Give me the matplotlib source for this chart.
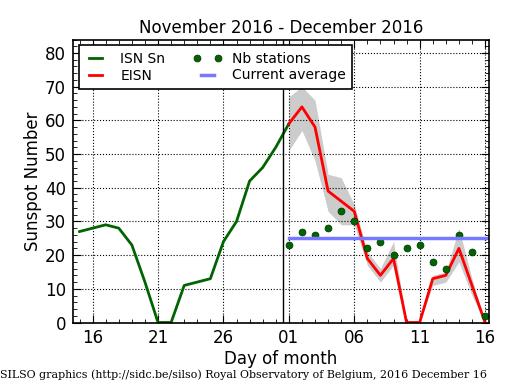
import numpy as np
import matplotlib
matplotlib.use('Agg')
import matplotlib.pyplot as plt
from matplotlib.ticker import MultipleLocator
from matplotlib.legend_handler import HandlerLine2D

# days relative to 2016 December 01
sn_days = np.arange(-16, 1)
sn_vals = [27, 28, 29, 28, 23, 12, 0, 0, 11, 12, 13, 24, 30, 42, 46, 52, 59]

eisn_days = np.arange(0, 16)
eisn_vals = [59, 64, 58, 39, 36, 33, 19, 14, 19, 0, 0, 13, 14, 22, 11, 0]
eisn_hi = [67, 70, 66, 44, 43, 35, 21, 16, 24, 0, 0, 14, 15, 28, 13, 0]
eisn_lo = [51, 57, 48, 33, 29, 29, 17, 12, 17, 0, 0, 11, 12, 18, 8, 0]
nb_stations = [23, 27, 26, 28, 33, 30, 22, 24, 20, 22, 23, 18, 16, 26, 21, 2]
current_avg = 25

tick_pos = [-15, -10, -5, 0, 5, 10, 15]
tick_lab = ['16', '21', '26', '01', '06', '11', '16']

fig = plt.figure(figsize=(5.15, 3.9), dpi=100)
ax = fig.add_axes([73/515, 1-322.5/390, (489-73)/515, (322.5-39.5)/390])

ax.fill_between(eisn_days, eisn_lo, eisn_hi, color='#cccccc', lw=0)
ax.plot(sn_days, sn_vals, color='darkgreen', lw=2, label='ISN Sn')
ax.plot(eisn_days, eisn_vals, color='red', lw=2, label='EISN')
dots, = ax.plot(eisn_days, nb_stations, 'o', color='darkgreen', ms=5, mec='#003300', mew=0.5,
                label='Nb stations')
ax.plot([0, 16], [current_avg, current_avg], color='#7777ff', lw=2.5, label='Current average')
ax.axvline(-0.45, color='black', lw=1)

ax.set_xlim(-16.5, 15.3)
ax.set_ylim(0, 84)
ax.set_xticks(tick_pos)
ax.set_xticklabels(tick_lab)
ax.xaxis.set_minor_locator(MultipleLocator(1))
ax.yaxis.set_major_locator(MultipleLocator(10))
ax.yaxis.set_minor_locator(MultipleLocator(2))
ax.tick_params(which='both', direction='in', top=True, right=True, labelsize=12)
ax.tick_params(which='major', length=6)
ax.tick_params(which='minor', length=3)
ax.tick_params(axis='x', pad=5)
ax.tick_params(axis='y', pad=5)
ax.grid(True, which='major', color='black', ls=':', lw=0.8)
for s in ax.spines.values():
    s.set_linewidth(1.2)

ax.set_xlabel('Day of month', fontsize=12, labelpad=2)
ax.set_ylabel('Sunspot Number', fontsize=12, labelpad=2)
ax.set_title('November 2016 - December 2016', fontsize=12, pad=5)

leg = ax.legend(loc='upper left', ncol=2, numpoints=2, fontsize=10, fancybox=False,
                borderaxespad=0.43, handlelength=1.53, handletextpad=1.0, columnspacing=2.25,
                labelspacing=0.2, borderpad=0.45,
                handler_map={dots: HandlerLine2D(numpoints=2, marker_pad=0)})
leg.get_frame().set_edgecolor('black')
leg.get_frame().set_linewidth(1.2)
leg.get_frame().set_alpha(1)

fig.text(0.0, 1-378/390, 'SILSO graphics (http://sidc.be/silso) Royal Observatory of Belgium, 2016 December 16',
         family='DejaVu Serif', fontsize=7.95, ha='left', va='baseline')

fig.savefig('out.png', dpi=100)
